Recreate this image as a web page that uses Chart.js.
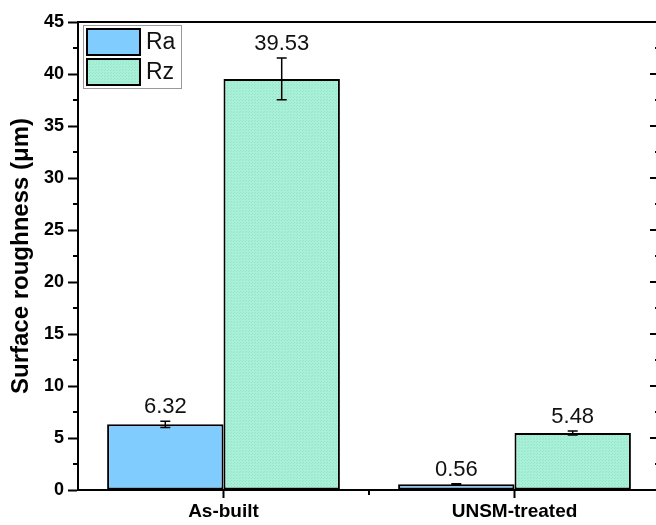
<!DOCTYPE html>
<html>
<head>
<meta charset="utf-8">
<script src="https://cdn.jsdelivr.net/npm/chart.js@4.4.0/dist/chart.umd.min.js"></script>
<style>
  html, body { margin: 0; padding: 0; background: #fff; overflow: hidden; }
  #wrap { width: 656px; height: 525px; overflow: hidden; }
</style>
</head>
<body>
<div id="wrap"><canvas id="roughChart" width="662" height="525"></canvas></div>
<script>
// data
const categories = ['As-built', 'UNSM-treated'];
const seriesNames = ['Ra', 'Rz'];
const raValues = [6.32, 0.56];
const rzValues = [39.53, 5.48];
const raErrors = [0.3, 0.05];
const rzErrors = [2.0, 0.2];
const yTickValues = [0, 5, 10, 15, 20, 25, 30, 35, 40, 45];

const FONT = "'Liberation Sans', Arial, sans-serif";
const raColor = '#80CCFF';
const rzColor = '#A8F0D8';

// dotted fill like the Origin pattern on the Rz bars
function makeDots() {
    const c = document.createElement('canvas');
    c.width = 3; c.height = 3;
    const g = c.getContext('2d');
    g.fillStyle = rzColor;
    g.fillRect(0, 0, 3, 3);
    g.fillStyle = '#98E4CA';
    g.fillRect(0, 0, 1, 1);
    g.fillRect(2, 1, 1, 1);
    return g.createPattern(c, 'repeat');
}

const errors = [raErrors, rzErrors];

const extrasPlugin = {
    id: 'extras',
    afterDatasetsDraw(chart) {
        const ctx = chart.ctx;
        const y = chart.scales.y;
        ctx.save();
        chart.data.datasets.forEach((ds, di) => {
            const meta = chart.getDatasetMeta(di);
            meta.data.forEach((bar, i) => {
                const v = ds.data[i];
                const e = errors[di][i];
                const yt = y.getPixelForValue(v + e);
                const yb = y.getPixelForValue(v - e);
                ctx.strokeStyle = '#000';
                ctx.lineWidth = 1.5;
                ctx.beginPath();
                ctx.moveTo(bar.x, yt); ctx.lineTo(bar.x, yb);
                ctx.moveTo(bar.x - 5, yt); ctx.lineTo(bar.x + 5, yt);
                ctx.moveTo(bar.x - 5, yb); ctx.lineTo(bar.x + 5, yb);
                ctx.stroke();
                // value label
                ctx.fillStyle = '#111';
                ctx.font = '22px ' + FONT;
                ctx.textAlign = 'center';
                ctx.textBaseline = 'alphabetic';
                ctx.fillText(v.toFixed(2), bar.x, yt - 8);
            });
        });
        ctx.restore();
    },
    afterDraw(chart) {
        const ctx = chart.ctx;
        const a = chart.chartArea;
        const y = chart.scales.y;
        const x = chart.scales.x;
        ctx.save();
        ctx.strokeStyle = '#000';
        ctx.lineWidth = 2;
        // top frame + right axis
        ctx.beginPath();
        ctx.moveTo(a.left - 1, a.top); ctx.lineTo(a.right, a.top);
        ctx.lineTo(a.right, a.bottom);
        ctx.stroke();
        // ticks on right axis and minor ticks on left axis
        for (let v = y.min; v <= y.max; v += 2.5) {
            const py = y.getPixelForValue(v);
            const major = v % 5 === 0;
            ctx.beginPath();
            ctx.moveTo(a.right, py); ctx.lineTo(a.right - (major ? 10 : 5), py);
            if (!major) { ctx.moveTo(a.left, py); ctx.lineTo(a.left - 5, py); }
            ctx.stroke();
        }
        // minor tick between categories
        const mid = (x.getPixelForValue(0) + x.getPixelForValue(1)) / 2;
        ctx.beginPath();
        ctx.moveTo(mid, a.bottom); ctx.lineTo(mid, a.bottom + 5);
        ctx.stroke();

        // legend box in upper left of plot
        const lx = a.left + 5, ly = a.top + 3;
        ctx.lineWidth = 1;
        ctx.strokeStyle = '#999';
        ctx.strokeRect(lx + 0.5, ly + 0.5, 98, 63);
        chart.data.datasets.forEach((ds, di) => {
            const sy = ly + 4 + di * 30;
            ctx.fillStyle = ds.backgroundColor;
            ctx.fillRect(lx + 4, sy, 53, 26);
            ctx.lineWidth = 2;
            ctx.strokeStyle = '#000';
            ctx.strokeRect(lx + 4, sy, 53, 26);
            ctx.fillStyle = '#111';
            ctx.font = '23px ' + FONT;
            ctx.textAlign = 'left';
            ctx.textBaseline = 'middle';
            ctx.fillText(ds.label, lx + 63, sy + 14);
        });
        ctx.restore();
    }
};

const ctx = document.getElementById('roughChart').getContext('2d');
const chart = new Chart(ctx, {
    type: 'bar',
    data: {
        labels: categories,
        datasets: [{
            label: seriesNames[0],
            data: raValues,
            backgroundColor: raColor,
            borderColor: '#000',
            borderWidth: 2,
            borderSkipped: false
        }, {
            label: seriesNames[1],
            data: rzValues,
            backgroundColor: makeDots(),
            borderColor: '#000',
            borderWidth: 2,
            borderSkipped: false
        }]
    },
    options: {
        responsive: false,
        animation: false,
        layout: { padding: { top: 22, right: 2, left: 0, bottom: 0 } },
        datasets: { bar: { categoryPercentage: 0.8, barPercentage: 1.0 } },
        plugins: { legend: { display: false }, tooltip: { enabled: false } },
        scales: {
            x: {
                offset: true,
                ticks: { color: '#000', padding: 2, font: { family: FONT, size: 19, weight: 'bold' } },
                grid: { offset: false, drawOnChartArea: false, tickLength: 8, tickWidth: 2, tickColor: '#000' },
                border: { display: true, width: 2, color: '#000' },
                afterFit: s => { s.height = 35; }
            },
            y: {
                min: 0,
                max: 45,
                afterBuildTicks: s => { s.ticks = yTickValues.map(v => ({ value: v })); },
                ticks: { color: '#000', padding: 4, font: { family: FONT, size: 18, weight: 'bold' } },
                grid: { drawOnChartArea: false, tickLength: 10, tickWidth: 2, tickColor: '#000' },
                border: { display: true, width: 2, color: '#000' },
                title: {
                    display: true,
                    text: 'Surface roughness (μm)',
                    color: '#000',
                    font: { family: FONT, size: 24, weight: 'bold' },
                    padding: { top: 7, bottom: 0 }
                },
                afterFit: s => { s.width = 78; }
            }
        }
    },
    plugins: [extrasPlugin]
});
</script>
</body>
</html>
